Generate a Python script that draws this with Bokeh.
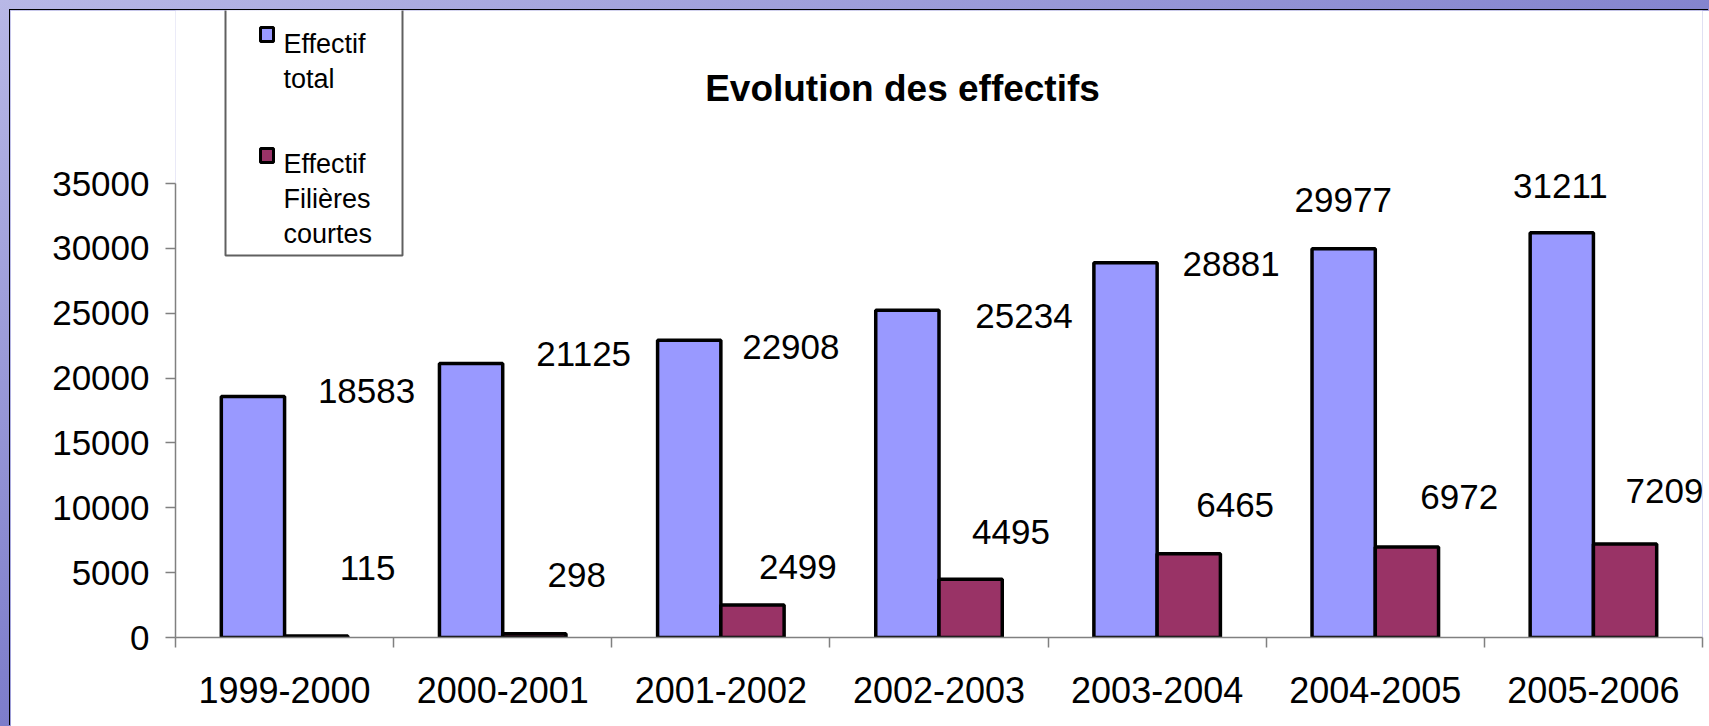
import numpy as np
from bokeh.plotting import figure
from bokeh.models import (Range1d, FixedTicker, NumeralTickFormatter, ColumnDataSource,
                          Label, LabelSet, BoxAnnotation)
from bokeh.core.properties import value
from bokeh.embed import file_html
from bokeh.resources import INLINE

# ---------------- data ----------------
years = ["1999-2000", "2000-2001", "2001-2002", "2002-2003",
         "2003-2004", "2004-2005", "2005-2006"]
effectif_total = [18583, 21125, 22908, 25234, 28881, 29977, 31211]
effectif_courtes = [115, 298, 2499, 4495, 6465, 6972, 7209]
y_ticks = [0, 5000, 10000, 15000, 20000, 25000, 30000, 35000]
title_text = "Evolution des effectifs"
legend_total = ["Effectif", "total"]
legend_courtes = ["Effectif", "Filières", "courtes"]

# hand-placed data label offsets of the original (pixels, + = right / down)
total_label_dx = [82, 81, 70, 85, 74, -32, -33]
total_label_dy = [-5, -9, 7, 6, 1, -49, -47]
courtes_label_dx = [83, 74, 77, 72, 78, 84, 71]
courtes_label_dy = [-68, -59, -38, -47, -49, -50, -53]

# ---------------- style / layout ----------------
FONT = "Liberation Sans"
BLUE = "#9999FF"
MAROON = "#993366"
AXIS = "#808080"
BAR_W = 0.29

FIG_W, FIG_H = 1699, 716          # figure placed 10px from the top/left page edge
BORDER_L, BORDER_R, BORDER_B = 165, 7, 89
FRAME_H = FIG_H - BORDER_B        # frame spans the whole height above the x axis
AXIS_H = 454                      # pixel height of the 0..35000 value axis

n = len(years)
centers = np.arange(n) + 0.5
y_top = y_ticks[-1] * FRAME_H / AXIS_H

src = ColumnDataSource(dict(
    xc=centers,
    x_total=centers - BAR_W / 2,
    x_courtes=centers + BAR_W / 2,
    total=effectif_total,
    courtes=effectif_courtes,
    total_txt=[str(v) for v in effectif_total],
    courtes_txt=[str(v) for v in effectif_courtes],
    tdx=total_label_dx, tdy=[-d for d in total_label_dy],
    cdx=courtes_label_dx, cdy=[-d for d in courtes_label_dy],
))

p = figure(width=FIG_W, height=FIG_H, margin=(10, 0, 0, 10),
           x_range=Range1d(0, n), y_range=Range1d(0, y_top),
           output_backend="svg", toolbar_location=None, title_location=None,
           min_border_left=BORDER_L, min_border_right=BORDER_R,
           min_border_top=0, min_border_bottom=BORDER_B,
           background_fill_color="white", border_fill_color="white",
           outline_line_color=None)
p.styles = {"box-shadow": "-1px -1px 0px 0px #000000"}
p.grid.grid_line_color = None

# bars
p.vbar(x="x_total", top="total", bottom=0, width=BAR_W, source=src,
       fill_color=BLUE, line_color="black", line_width=3.5)
p.vbar(x="x_courtes", top="courtes", bottom=0, width=BAR_W, source=src,
       fill_color=MAROON, line_color="black", line_width=3.5)

# data labels
for ycol, tcol, dx, dy in [("total", "total_txt", "tdx", "tdy"),
                           ("courtes", "courtes_txt", "cdx", "cdy")]:
    p.add_layout(LabelSet(x="xc", y=ycol, text=tcol, x_offset=dx, y_offset=dy,
                          source=src, text_font=value(FONT), text_font_size="35px",
                          text_align="center", text_baseline="middle",
                          text_color="black"))

# y axis
ya = p.yaxis[0]
ya.bounds = (y_ticks[0], y_ticks[-1])
ya.ticker = FixedTicker(ticks=y_ticks)
ya.formatter = NumeralTickFormatter(format="0")
ya.axis_line_color = AXIS
ya.axis_line_width = 1.5
ya.major_tick_line_color = AXIS
ya.major_tick_line_width = 1.5
ya.major_tick_out = 10
ya.major_tick_in = 0
ya.minor_tick_line_color = None
ya.major_label_text_font = FONT
ya.major_label_text_font_size = "35px"
ya.major_label_text_color = "black"
ya.major_label_standoff = 16

# x axis: labels at category centres, ticks at category boundaries
xa = p.xaxis[0]
xa.ticker = FixedTicker(ticks=list(centers), minor_ticks=list(range(n + 1)))
xa.major_label_overrides = {float(c): y for c, y in zip(centers, years)}
xa.axis_line_color = AXIS
xa.axis_line_width = 1.5
xa.major_tick_line_color = None
xa.major_tick_out = 0
xa.major_tick_in = 0
xa.minor_tick_line_color = AXIS
xa.minor_tick_line_width = 1.5
xa.minor_tick_out = 10
xa.minor_tick_in = 0
xa.major_label_text_font = FONT
xa.major_label_text_font_size = "36px"
xa.major_label_text_color = "black"
xa.major_label_standoff = 29

# title (screen units: from frame left / frame bottom)
p.add_layout(Label(x=727, y=549, x_units="screen", y_units="screen",
                   text=title_text, text_font=FONT, text_font_size="37px",
                   text_font_style="bold", text_align="center",
                   text_baseline="alphabetic", text_color="black"))

# legend box
p.add_layout(BoxAnnotation(left=50, right=227, bottom=382, top=660,
                           left_units="screen", right_units="screen",
                           bottom_units="screen", top_units="screen",
                           fill_color="white", fill_alpha=1,
                           line_color="#606060", line_width=2, line_alpha=1,
                           level="overlay"))
for color, top in [(BLUE, 610), (MAROON, 489)]:
    p.add_layout(BoxAnnotation(left=85, right=98, bottom=top - 14, top=top,
                               left_units="screen", right_units="screen",
                               bottom_units="screen", top_units="screen",
                               fill_color=color, fill_alpha=1,
                               line_color="black", line_width=3, line_alpha=1,
                               level="overlay"))
for lines, y0 in [(legend_total, 594), (legend_courtes, 474)]:
    for k, t in enumerate(lines):
        p.add_layout(Label(x=108, y=y0 - 35 * k, x_units="screen", y_units="screen",
                           text=t, text_font=FONT, text_font_size="27px",
                           text_align="left", text_baseline="alphabetic",
                           text_color="black", level="overlay"))

html = file_html(p, INLINE)
html = html.replace("</head>",
                    "<style>body{background:linear-gradient(160deg,#b8b8e6 0%,#8080cc 50%,#5a5ab8 100%);}</style></head>")
open("out.html", "w").write(html)
